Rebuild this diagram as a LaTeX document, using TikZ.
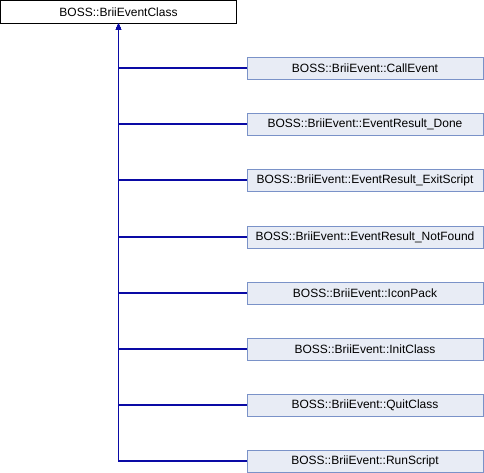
\documentclass[tikz,border=0pt]{standalone}
\usepackage{fontspec}
\setmainfont{Liberation Sans}
\usetikzlibrary{arrows.meta}
\definecolor{edgeblue}{RGB}{10,10,165}
\definecolor{boxfill}{RGB}{232,236,245}
\definecolor{boxdraw}{RGB}{122,146,200}
\begin{document}
\begin{tikzpicture}[x=1pt,y=-1pt,
  every node/.style={font=\fontsize{12}{14}\selectfont, inner sep=0pt, anchor=center},
  parentbox/.style={draw=black, fill=white, line width=1pt, minimum width=236pt, minimum height=22.5pt},
  childbox/.style={draw=boxdraw, fill=boxfill, line width=1pt, minimum width=236pt, minimum height=22pt},
  inherit/.style={draw=edgeblue, line width=1.2pt, -{Triangle[width=5pt,length=6pt]}}]
\useasboundingbox (0,0) rectangle (484,472);
\node[parentbox] (top) at (118.5,11.75) {BOSS::BriiEventClass};
\node[childbox] (c1) at (365,68) {BOSS::BriiEvent::CallEvent};
\node[childbox] (c2) at (365,124) {BOSS::BriiEvent::EventResult\_Done};
\node[childbox] (c3) at (365,180) {BOSS::BriiEvent::EventResult\_ExitScript};
\node[childbox] (c4) at (365,237) {BOSS::BriiEvent::EventResult\_NotFound};
\node[childbox] (c5) at (365,293) {BOSS::BriiEvent::IconPack};
\node[childbox] (c6) at (365,349) {BOSS::BriiEvent::InitClass};
\node[childbox] (c7) at (365,405) {BOSS::BriiEvent::QuitClass};
\node[childbox] (c8) at (365,461) {BOSS::BriiEvent::RunScript};
\foreach \c in {c1,c2,c3,c4,c5,c6,c7,c8}{
  \draw[inherit] (\c.west) -| (top.south);
}
\end{tikzpicture}
\end{document}
